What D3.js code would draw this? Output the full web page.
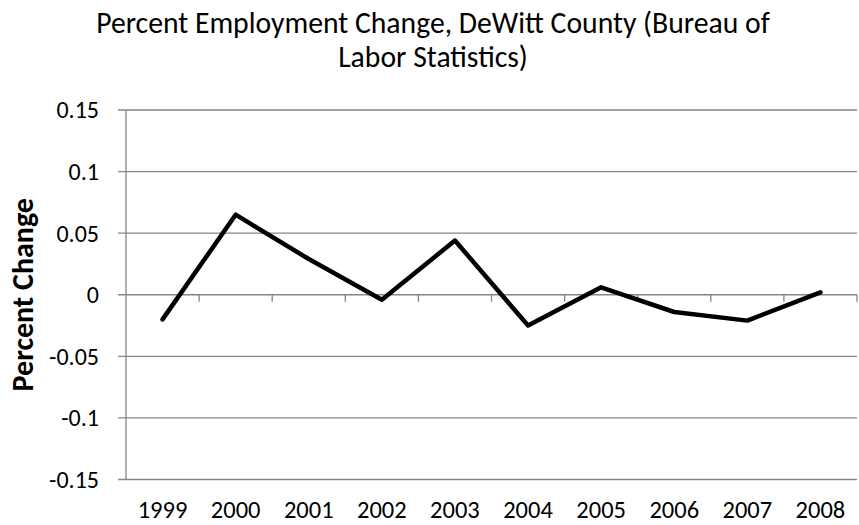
<!DOCTYPE html>
<html><head><meta charset="utf-8">
<script src="https://cdn.jsdelivr.net/npm/d3@7"></script>
<style>
body{margin:0;background:#fff;}
svg text{font-family:Carlito, Calibri, "Liberation Sans Narrow", "Open Sans", sans-serif;fill:#000;}
</style></head>
<body><svg id="c" width="859" height="525"></svg>
<script>
const years = ["1999","2000","2001","2002","2003","2004","2005","2006","2007","2008"];
const values = [-0.020, 0.065, 0.029, -0.004, 0.044, -0.025, 0.006, -0.014, -0.021, 0.002];
const yTicks = [-0.15, -0.1, -0.05, 0, 0.05, 0.1, 0.15];
const yTickLabels = ["-0.15","-0.1","-0.05","0","0.05","0.1","0.15"];
const titleLines = ["Percent Employment Change, DeWitt County (Bureau of","Labor Statistics)"];
const yTitle = "Percent Change";

const svg = d3.select("#c");
const m = {l:126, r:857, t:110, b:479.5};
const x = d3.scaleBand().domain(years).range([m.l, m.r]);
const y = d3.scaleLinear().domain([-0.15,0.15]).range([m.b, m.t]);

// gridlines
svg.append("g").selectAll("line").data(yTicks).join("line")
  .attr("x1", m.l-8).attr("x2", m.r).attr("y1", d=>y(d)).attr("y2", d=>y(d))
  .attr("stroke","#868686").attr("stroke-width",1.3);
// left axis line
svg.append("line").attr("x1",m.l).attr("x2",m.l).attr("y1",m.t).attr("y2",m.b)
  .attr("stroke","#868686").attr("stroke-width",1.3);
// x axis (at zero) with ticks at category boundaries
const bounds = years.map(d=>x(d)).concat([m.r]).slice(1);
svg.append("g").selectAll("line").data(bounds).join("line")
  .attr("x1",d=>d).attr("x2",d=>d).attr("y1",y(0)).attr("y2",y(0)+7)
  .attr("stroke","#868686").attr("stroke-width",1.3);

// y labels
svg.append("g").selectAll("text").data(yTicks).join("text")
  .attr("x", 99).attr("y", d=>y(d)).attr("dy","0.35em")
  .attr("text-anchor","end").attr("font-size",24)
  .text((d,i)=>yTickLabels[i]);
// x labels
svg.append("g").selectAll("text").data(years).join("text")
  .attr("x", d=>x(d)+x.bandwidth()/2).attr("y", 518)
  .attr("text-anchor","middle").attr("font-size",24.5).text(d=>d);

// line
const line = d3.line().x((d,i)=>x(years[i])+x.bandwidth()/2).y(d=>y(d));
svg.append("path").datum(values).attr("d",line).attr("fill","none")
  .attr("stroke","#000").attr("stroke-width",4.5).attr("stroke-linejoin","round").attr("stroke-linecap","round");

// titles
svg.append("g").selectAll("text").data(titleLines).join("text")
  .attr("x",433).attr("y",(d,i)=>33+i*34).attr("text-anchor","middle").attr("font-size",29.7).text(d=>d);
svg.append("text").attr("transform",`translate(33,${(m.t+m.b)/2}) rotate(-90)`)
  .attr("text-anchor","middle").attr("font-size",30).attr("font-weight","bold").text(yTitle);
</script></body></html>
